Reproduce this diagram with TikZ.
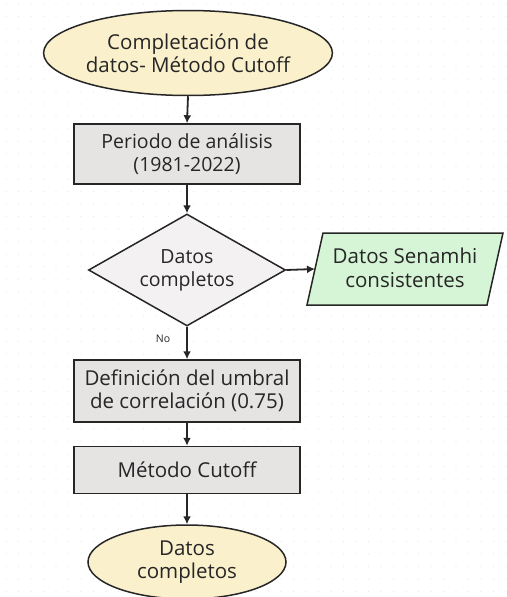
\documentclass[tikz,border=0pt]{standalone}
\usepackage{fontspec}
\setmainfont{Open Sans}
\usetikzlibrary{shapes.geometric,arrows.meta}
\definecolor{termfill}{HTML}{FBF0CC}
\definecolor{procfill}{HTML}{E6E3E3}
\definecolor{decfill}{HTML}{F3F1F1}
\definecolor{iofill}{HTML}{D6F5D6}
\definecolor{linec}{HTML}{262626}
\definecolor{dotc}{HTML}{E8E8E8}
\begin{document}
\begin{tikzpicture}[x=1pt,y=-1pt,
  every node/.style={font=\fontsize{20.5}{23.5}\selectfont, text=linec},
  smallfont/.style={font=\fontsize{19.5}{23}\selectfont},
  terminal/.style={ellipse, draw=linec, line width=1.5pt, fill=termfill, align=center, inner sep=0pt},
  procbox/.style={rectangle, draw=linec, line width=1.5pt, fill=procfill, align=center, minimum width=226pt, inner sep=0pt},
  decision/.style={diamond, draw=linec, line width=1.5pt, fill=decfill, align=center, inner sep=0pt, aspect=1.78},
  ioshape/.style={draw=linec, line width=1.5pt, fill=iofill, line join=miter},
  flow/.style={draw=linec, line width=1.8pt, -{Latex[length=8pt,width=8pt]}}
]
\useasboundingbox (0,0) rectangle (506,597);
\fill[white] (0,0) rectangle (506,597);
\foreach \i in {0,...,40} {
  \foreach \j in {0,...,47} {
    \fill[dotc] (6+\i*12.5, 4+\j*12.5) circle (0.7);
  }
}
\node[terminal, minimum width=283pt, minimum height=85pt] (start) at (188,53) {Completación de\\datos- Método Cutoff};
\node[procbox, smallfont, minimum height=60pt] (periodo) at (187,154) {Periodo de análisis\\(1981-2022)};
\node[decision, smallfont, minimum width=197pt, minimum height=112pt] (dec) at (187,270) {Datos\\completos};
% parallelogram
\coordinate (ptl) at (323,233);
\coordinate (ptr) at (503,233);
\coordinate (pbr) at (487,305);
\coordinate (pbl) at (307,305);
\coordinate (pw) at (315,269);
\draw[ioshape] (ptl) -- (ptr) -- (pbr) -- (pbl) -- cycle;
\node[align=center] (senamhi) at (405,268) {Datos Senamhi\\consistentes};
\node[procbox, minimum height=62pt] (umbral) at (187,391) {Definición del umbral\\de correlación (0.75)};
\node[procbox, minimum height=47pt] (cutoff) at (187,470) {Método Cutoff};
\node[terminal, minimum width=198pt, minimum height=74pt] (fin) at (187,562) {Datos\\completos};
\node[font=\fontsize{10.5}{12}\selectfont] (no) at (163,339) {No};
\draw[flow] (start.south) -- (periodo.north);
\draw[flow] (periodo.south) -- (dec.north);
\draw[flow] (dec.east) -- (pw);
\draw[flow] (dec.south) -- (umbral.north);
\draw[flow] (umbral.south) -- (cutoff.north);
\draw[flow] (cutoff.south) -- (fin.north);
\end{tikzpicture}
\end{document}
